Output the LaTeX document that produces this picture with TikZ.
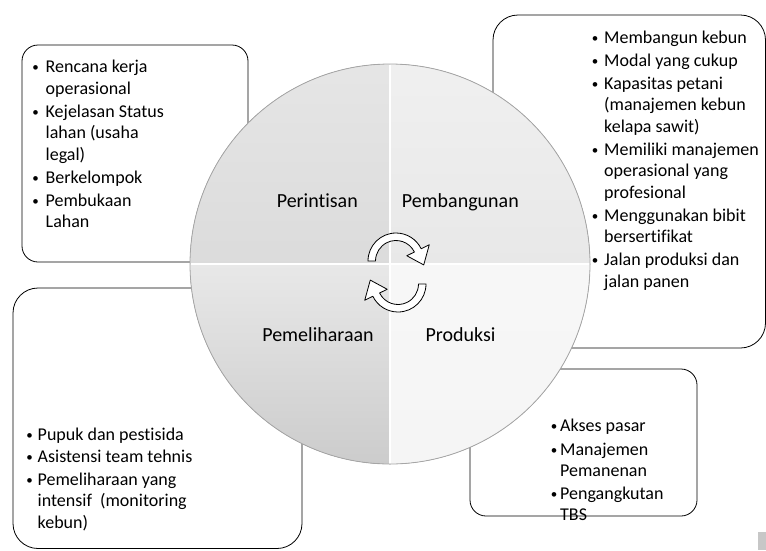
\documentclass[tikz,border=0pt]{standalone}
\usepackage{fontspec}
\setmainfont{Carlito}[Ligatures=NoCommon]
\begin{document}
\begin{tikzpicture}[x=1pt,y=-1pt,
  panel/.style={draw=black, line width=0.8pt, rounded corners=#1},
  phase/.style={anchor=base, inner sep=0pt, font=\fontsize{20}{24}\selectfont},
  txt/.style={anchor=base west, inner sep=0pt, font=\fontsize{18}{21}\selectfont},
  bul/.style={anchor=base, inner sep=0pt, font=\fontsize{13}{15}\selectfont, yshift=1pt},
  cyc/.style={fill=white, draw=black, line width=0.8pt, line join=round},
  divider/.style={line width=2.2pt, draw=black!14},
]
\useasboundingbox (0,0) rectangle (766,550);

% rounded panels behind the wheel
\draw[panel=16pt] (22,45) rectangle (248,262);
\draw[panel=25pt] (493,15) rectangle (765.5,348);
\draw[panel=25pt] (13,288) rectangle (302,548.5);
\draw[panel=16pt] (470,369) rectangle (697,516);

% the four quarters of the wheel
\coordinate (c) at (390,264);
\fill[top color=black!10, bottom color=black!14]
  (c) -- ++(-200,0) arc[start angle=180, end angle=270, radius=200] -- cycle;
\fill[top color=black!6, bottom color=black!9]
  (c) -- ++(0,-200) arc[start angle=270, end angle=360, radius=200] -- cycle;
\fill[top color=black!9, bottom color=black!20]
  (c) -- ++(0,200) arc[start angle=90, end angle=180, radius=200] -- cycle;
\fill[top color=black!3, bottom color=black!4]
  (c) -- ++(200,0) arc[start angle=0, end angle=90, radius=200] -- cycle;
\draw[black!35, line width=0.8pt] (c) circle[radius=200];

% dividers between quarters
\draw[divider] (390,64.5) -- (390,463.5);
\draw[divider] (190.5,264) -- (589.5,264);
\draw[white, line width=1.2pt] (390,65) -- (390,463);
\draw[white, line width=1.2pt] (191,264) -- (589,264);

% phase names
\node[phase] (perintisan) at (317.3,207) {Perintisan};
\node[phase] (pembangunan) at (460.3,207) {Pembangunan};
\node[phase] (pemeliharaan) at (318,341) {Pemeliharaan};
\node[phase] (produksi) at (460.5,341) {Produksi};

% circular arrows in the middle
\begin{scope}[shift={(396,261)}, yscale=-1]
  \draw[cyc] (180:28) arc[start angle=180, end angle=26, radius=28]
    -- (26:37) -- (-8:28) -- (26:12) -- (26:20.5)
    arc[start angle=26, end angle=180, radius=20.5] -- cycle;
\end{scope}
\begin{scope}[shift={(398,284)}, yscale=-1, rotate=180]
  \draw[cyc] (180:28) arc[start angle=180, end angle=26, radius=28]
    -- (26:37) -- (-8:28) -- (26:12) -- (26:20.5)
    arc[start angle=26, end angle=180, radius=20.5] -- cycle;
\end{scope}

% small grey block in the corner
\fill[black!22] (758.3,531.7) rectangle (766,550);

% Perintisan panel
\node[bul] (a1b) at (35.5,72.5) {•};
\node[txt] (a1) at (45.5,72.5) {Rencana kerja};
\node[txt] (a1c) at (45.5,94) {operasional};
\node[bul] (a2b) at (35.5,117) {•};
\node[txt] (a2) at (45.5,117) {Kejelasan Status};
\node[txt] (a2c) at (45.5,138.5) {lahan (usaha};
\node[txt] (a2d) at (45.5,160) {legal)};
\node[bul] (a3b) at (35.5,183) {•};
\node[txt] (a3) at (45.5,183) {Berkelompok};
\node[bul] (a4b) at (35.5,206) {•};
\node[txt] (a4) at (45.5,206) {Pembukaan};
\node[txt] (a4c) at (45.5,227.5) {Lahan};

% Pembangunan panel
\node[bul] (b1b) at (595,43) {•};
\node[txt] (b1) at (604,43) {Membangun kebun};
\node[bul] (b2b) at (595,66) {•};
\node[txt] (b2) at (604,66) {Modal yang cukup};
\node[bul] (b3b) at (595,89) {•};
\node[txt] (b3) at (604,89) {Kapasitas petani};
\node[txt] (b3c) at (604,110.5) {(manajemen kebun};
\node[txt] (b3d) at (604,132) {kelapa sawit)};
\node[bul] (b4b) at (595,155) {•};
\node[txt] (b4) at (604,155) {Memiliki manajemen};
\node[txt] (b4c) at (604,176.5) {operasional yang};
\node[txt] (b4d) at (604,198) {profesional};
\node[bul] (b5b) at (595,221) {•};
\node[txt] (b5) at (604,221) {Menggunakan bibit};
\node[txt] (b5c) at (604,242.5) {bersertifikat};
\node[bul] (b6b) at (595,265.5) {•};
\node[txt] (b6) at (604,265.5) {Jalan produksi dan};
\node[txt] (b6c) at (604,287) {jalan panen};

% Pemeliharaan panel
\node[bul] (d1b) at (29.5,440.5) {•};
\node[txt] (d1) at (37.5,440.5) {Pupuk dan pestisida};
\node[bul] (d2b) at (29.5,462) {•};
\node[txt] (d2) at (37.5,462) {Asistensi team tehnis};
\node[bul] (d3b) at (29.5,485) {•};
\node[txt] (d3) at (37.5,485) {Pemeliharaan yang};
\node[txt] (d3c) at (37.5,506.5) {intensif~ (monitoring};
\node[txt] (d3d) at (37.5,528) {kebun)};

% Produksi panel
\node[bul] (p1b) at (554,431.5) {•};
\node[txt] (p1) at (560,431.5) {Akses pasar};
\node[bul] (p2b) at (554,455) {•};
\node[txt] (p2) at (560,455) {Manajemen};
\node[txt] (p2c) at (560,476) {Pemanenan};
\node[bul] (p3b) at (554,499) {•};
\node[txt] (p3) at (560,499) {Pengangkutan};
\node[txt] (p3c) at (560,520) {TBS};
\end{tikzpicture}
\end{document}
